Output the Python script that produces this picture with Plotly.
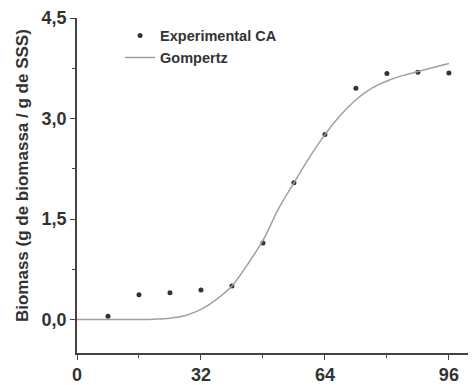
import plotly.graph_objects as go

# Experimental data
exp_time = [8, 16, 24, 32, 40, 48, 56, 64, 72, 80, 88, 96]
exp_biomass = [0.05, 0.37, 0.40, 0.44, 0.50, 1.14, 2.04, 2.76, 3.45, 3.67, 3.69, 3.68]

# Gompertz fit curve
fit_time = [0, 8, 16, 20, 24, 28, 32, 36, 40, 44, 48, 52, 56, 60, 64, 68, 72, 76, 80, 84, 88, 92, 96]
fit_biomass = [0, 0, 0, 0.005, 0.02, 0.06, 0.15, 0.30, 0.50, 0.82, 1.18, 1.65, 2.04, 2.42, 2.76,
               3.05, 3.28, 3.45, 3.56, 3.64, 3.70, 3.76, 3.82]

x_ticks = [0, 32, 64, 96]
y_ticks = [0.0, 1.5, 3.0, 4.5]

FONT = "Liberation Sans"

fig = go.Figure()
fig.add_trace(go.Scatter(
    x=exp_time, y=exp_biomass, mode="markers", name="Experimental CA",
    marker=dict(color="#333333", size=5, symbol="circle"),
))
fig.add_trace(go.Scatter(
    x=fit_time, y=fit_biomass, mode="lines", name="Gompertz",
    line=dict(color="#a0a0a0", width=1.5, shape="spline"),
))

axis_common = dict(
    showgrid=False, zeroline=False, showline=True, linecolor="#444444", linewidth=1.5,
    ticks="outside", ticklen=5, tickcolor="#444444", tickwidth=1.2,
    tickfont=dict(family=FONT, size=18, color="#333333", weight="bold"),
)

# page has an 8px body margin, so the figure is sized to fit the 476x385 window
fig.update_layout(
    width=468, height=377,
    margin=dict(l=69, r=0, t=10, b=32),
    plot_bgcolor="white", paper_bgcolor="white",
    separators=",.",
    showlegend=True,
    legend=dict(
        x=0.108, y=0.995, xanchor="left", yanchor="top",
        font=dict(family=FONT, size=14.5, color="#333333", weight="bold"),
        bgcolor="rgba(0,0,0,0)", tracegroupgap=0, itemwidth=30,
    ),
    xaxis=dict(range=[0, 103], tickvals=x_ticks, ticktext=[str(v) for v in x_ticks],
               minor=dict(tickvals=[16, 48, 80], ticks="outside", ticklen=3, tickcolor="#444444"),
               **axis_common),
    yaxis=dict(range=[-0.5, 4.5], tickvals=y_ticks, tickformat=".1f",
               minor=dict(tickvals=[0.75, 2.25, 3.75], ticks="outside", ticklen=3, tickcolor="#444444"),
               **axis_common),
    annotations=[dict(
        text="Biomass (g de biomassa / g de SSS)", textangle=-90,
        xref="paper", yref="paper", x=-0.138, y=0.531, xanchor="center", yanchor="middle",
        showarrow=False, font=dict(family=FONT, size=17, color="#333333", weight="bold"),
    )],
)

fig.write_html("out.html")
